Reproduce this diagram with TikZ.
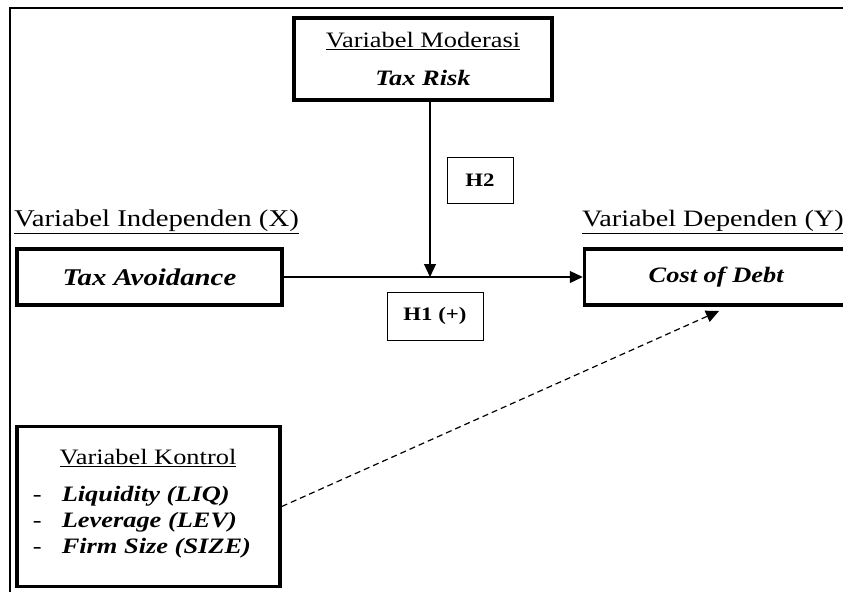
\documentclass[tikz,border=0pt]{standalone}
\usepackage{fontspec}
\setmainfont[FakeStretch=1.2]{Liberation Serif}
\usetikzlibrary{arrows.meta}
\tikzset{
  varbox/.style={draw, line width=3.5pt, inner sep=0pt, align=center},
  hypbox/.style={draw, line width=0.9pt, inner sep=0pt, font=\fontsize{19}{22}\selectfont\bfseries},
  varlabel/.style={anchor=west, inner sep=0pt},
  conn/.style={line width=1.2pt, -{Triangle[length=13pt, width=12pt]}}
}
\begin{document}
\begin{tikzpicture}[x=1pt, y=-1pt, every node/.style={font=\fontsize{22}{26}\selectfont}]
  \useasboundingbox (0,0) rectangle (843,592);
  \clip (0,0) rectangle (843,592);
  % frame of the page
  \draw[line width=1.6pt] (843,8) -- (10,8) -- (10,592);

  \node[varbox, minimum width=258, minimum height=82] (moderasi) at (423,59)
    {\underline{Variabel Moderasi}\\[12pt] \textbf{\textit{Tax Risk}}};
  \node[varbox, minimum width=265, minimum height=56, font=\fontsize{24}{28}\selectfont] (avoid) at (149.5,277)
    {\textbf{\textit{Tax Avoidance}}};
  \node[varbox, minimum width=264, minimum height=56] (cost) at (716.5,277) {\textbf{\textit{Cost of Debt}}};
  \node[varbox, minimum width=263, minimum height=160] (kontrol) at (148.5,506.5)
    {\begin{tabular}{@{}l@{\hspace{20pt}}l@{}}
       \multicolumn{2}{@{\hspace{18pt}}c}{\underline{Variabel Kontrol}}\\[11pt]
       - & \textbf{\textit{Liquidity (LIQ)}}\\
       - & \textbf{\textit{Leverage (LEV)}}\\
       - & \textbf{\textit{Firm Size (SIZE)}}\\[6pt]
     \end{tabular}\hspace*{13pt}};

  \node[varlabel, font=\fontsize{24}{28}\selectfont] (indep) at (14,222) {\underline{Variabel Independen (X)}};
  \node[varlabel, font=\fontsize{23.5}{28}\selectfont] (dep) at (582,222) {\underline{Variabel Dependen (Y)}};

  \node[hypbox, minimum width=66, minimum height=46] (h2) at (480,180) {H2};
  \node[hypbox, minimum width=96, minimum height=48] (h1) at (435,316) {H1 (+)};

  \coordinate (join) at (430,277);
  \coordinate (dtip) at (719,311);
  \draw[conn] (avoid.east) -- (cost.west);
  \draw[conn] (moderasi.south -| join) -- (join);
  \draw[conn, dash pattern=on 6pt off 4pt] (kontrol.east) -- (dtip);
\end{tikzpicture}
\end{document}
